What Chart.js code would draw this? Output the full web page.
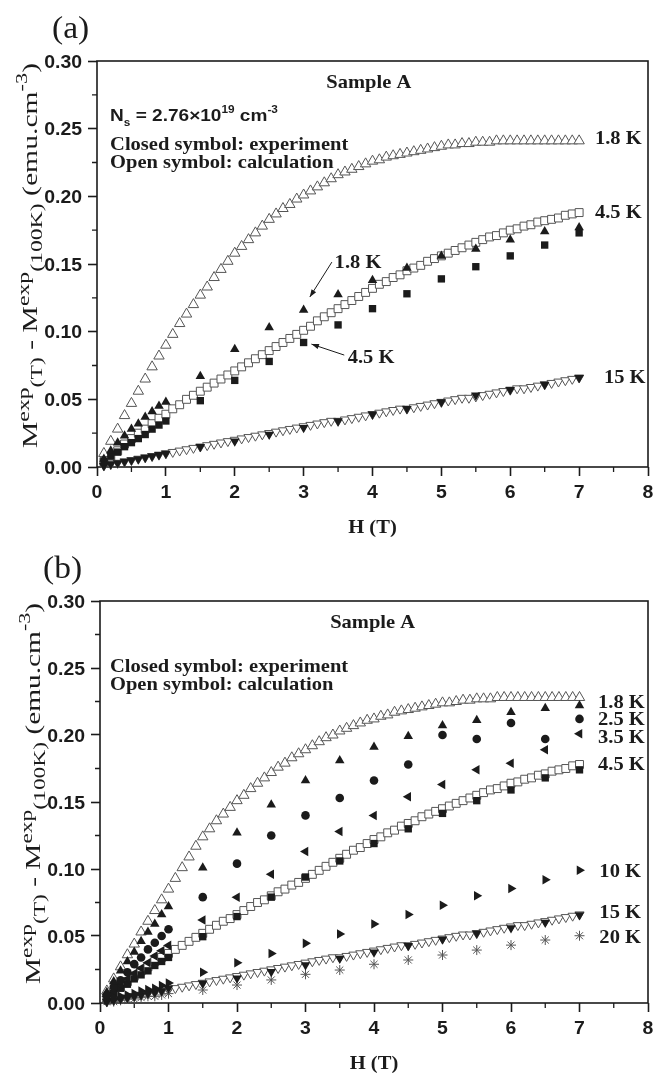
<!DOCTYPE html>
<html>
<head>
<meta charset="utf-8">
<script src="https://cdn.jsdelivr.net/npm/chart.js@4.4.0/dist/chart.umd.min.js"></script>
<style>
    html, body { margin: 0; padding: 0; background: #fff; }
    canvas { display: block; }
</style>
</head>
<body>
<canvas id="chartA" width="655" height="538"></canvas>
<canvas id="chartB" width="655" height="539"></canvas>
<script>
'use strict';

// fields of the measured points (T)
const fieldExp = [0.1, 0.2, 0.3, 0.4, 0.5, 0.6, 0.7, 0.8, 0.9, 1.0, 1.5, 2.0, 2.5, 3.0, 3.5, 4.0, 4.5, 5.0, 5.5, 6.0, 6.5, 7.0];

// fields of the calculated curves (T)
const fieldCalc = [
    0.1, 0.2, 0.3, 0.4, 0.5, 0.6, 0.7, 0.8, 0.9, 1.0,
    1.1, 1.2, 1.3, 1.4, 1.5, 1.6, 1.7, 1.8, 1.9, 2.0,
    2.1, 2.2, 2.3, 2.4, 2.5, 2.6, 2.7, 2.8, 2.9, 3.0,
    3.1, 3.2, 3.3, 3.4, 3.5, 3.6, 3.7, 3.8, 3.9, 4.0,
    4.1, 4.2, 4.3, 4.4, 4.5, 4.6, 4.7, 4.8, 4.9, 5.0,
    5.1, 5.2, 5.3, 5.4, 5.5, 5.6, 5.7, 5.8, 5.9, 6.0,
    6.1, 6.2, 6.3, 6.4, 6.5, 6.6, 6.7, 6.8, 6.9, 7.0
];

// panel (a), experiment
const expA18 = [0.006, 0.012, 0.018, 0.023, 0.028, 0.032, 0.037, 0.041, 0.045, 0.048, 0.067, 0.087, 0.103, 0.116, 0.1275, 0.138, 0.147, 0.156, 0.161, 0.168, 0.174, 0.177];
const expA45 = [0.004, 0.008, 0.011, 0.015, 0.018, 0.021, 0.024, 0.028, 0.031, 0.034, 0.049, 0.064, 0.078, 0.092, 0.105, 0.117, 0.128, 0.139, 0.148, 0.156, 0.164, 0.173];
const expA15 = [0.001, 0.002, 0.003, 0.004, 0.005, 0.006, 0.007, 0.008, 0.009, 0.010, 0.015, 0.019, 0.024, 0.029, 0.034, 0.039, 0.043, 0.048, 0.053, 0.057, 0.061, 0.066];

// panel (a), calculation
const calcA18 = [
    0.010, 0.019, 0.028, 0.038, 0.047, 0.056, 0.065, 0.074, 0.082, 0.090,
    0.098, 0.106, 0.113, 0.120, 0.127, 0.133, 0.140, 0.146, 0.152, 0.158,
    0.163, 0.168, 0.173, 0.178, 0.183, 0.187, 0.191, 0.194, 0.198, 0.201,
    0.204, 0.207, 0.210, 0.213, 0.216, 0.218, 0.220, 0.222, 0.224, 0.226,
    0.227, 0.229, 0.230, 0.231, 0.232, 0.233, 0.234, 0.235, 0.236, 0.237,
    0.238, 0.238, 0.239, 0.239, 0.240, 0.240, 0.240, 0.241, 0.241, 0.241,
    0.241, 0.241, 0.241, 0.241, 0.241, 0.241, 0.241, 0.241, 0.241, 0.241
];
const calcA45 = [
    0.004, 0.008, 0.012, 0.017, 0.021, 0.025, 0.028, 0.032, 0.036, 0.039,
    0.043, 0.046, 0.050, 0.053, 0.056, 0.059, 0.062, 0.065, 0.068, 0.071,
    0.074, 0.077, 0.080, 0.083, 0.086, 0.089, 0.092, 0.095, 0.098, 0.101,
    0.104, 0.108, 0.111, 0.114, 0.117, 0.120, 0.123, 0.126, 0.129, 0.132,
    0.135, 0.137, 0.140, 0.142, 0.145, 0.147, 0.149, 0.152, 0.154, 0.156,
    0.158, 0.160, 0.162, 0.164, 0.166, 0.168, 0.170, 0.171, 0.173, 0.175,
    0.176, 0.178, 0.179, 0.181, 0.182, 0.183, 0.184, 0.186, 0.187, 0.188
];
const calc15 = [
    0.001, 0.002, 0.003, 0.004, 0.005, 0.006, 0.007, 0.008, 0.009, 0.010,
    0.011, 0.012, 0.013, 0.014, 0.015, 0.016, 0.017, 0.018, 0.019, 0.020,
    0.021, 0.022, 0.023, 0.024, 0.025, 0.026, 0.027, 0.028, 0.029, 0.030,
    0.031, 0.032, 0.033, 0.034, 0.034, 0.035, 0.036, 0.037, 0.038, 0.039,
    0.040, 0.041, 0.042, 0.043, 0.043, 0.044, 0.045, 0.046, 0.047, 0.048,
    0.049, 0.050, 0.051, 0.051, 0.052, 0.053, 0.054, 0.055, 0.056, 0.057,
    0.058, 0.058, 0.059, 0.060, 0.061, 0.062, 0.063, 0.064, 0.065, 0.066
];

// panel (b), experiment
const expB18 = [0.008, 0.016, 0.024, 0.031, 0.038, 0.046, 0.053, 0.059, 0.066, 0.072, 0.101, 0.127, 0.148, 0.166, 0.181, 0.191, 0.199, 0.207, 0.211, 0.217, 0.220, 0.222];
const expB25 = [0.006, 0.012, 0.017, 0.023, 0.029, 0.034, 0.040, 0.045, 0.050, 0.055, 0.079, 0.104, 0.125, 0.140, 0.153, 0.166, 0.178, 0.200, 0.197, 0.209, 0.197, 0.212];
const expB35 = [0.005, 0.009, 0.014, 0.018, 0.022, 0.026, 0.030, 0.035, 0.039, 0.043, 0.062, 0.079, 0.096, 0.113, 0.128, 0.140, 0.154, 0.163, 0.174, 0.179, 0.189, 0.201];
const expB45 = [0.004, 0.007, 0.011, 0.014, 0.018, 0.021, 0.024, 0.028, 0.031, 0.034, 0.0495, 0.0645, 0.079, 0.094, 0.106, 0.119, 0.130, 0.1415, 0.151, 0.159, 0.168, 0.174];
const expB10 = [0.002, 0.003, 0.005, 0.006, 0.007, 0.009, 0.010, 0.011, 0.013, 0.015, 0.023, 0.030, 0.037, 0.0445, 0.0515, 0.059, 0.066, 0.073, 0.080, 0.0855, 0.092, 0.099];
const expB15 = [0.001, 0.002, 0.003, 0.004, 0.005, 0.006, 0.007, 0.008, 0.009, 0.011, 0.0147, 0.0184, 0.0234, 0.0283, 0.0333, 0.0378, 0.0427, 0.0475, 0.052, 0.056, 0.060, 0.0656];
const expB20 = [0.001, 0.001, 0.002, 0.003, 0.003, 0.004, 0.005, 0.005, 0.006, 0.007, 0.0097, 0.0134, 0.0172, 0.0214, 0.0246, 0.0289, 0.0321, 0.0358, 0.0395, 0.0432, 0.047, 0.0502];

// panel (b), calculation
const calcB18 = [
    0.009, 0.018, 0.027, 0.036, 0.044, 0.053, 0.061, 0.069, 0.077, 0.085,
    0.093, 0.101, 0.109, 0.117, 0.124, 0.130, 0.136, 0.141, 0.146, 0.151,
    0.155, 0.160, 0.164, 0.168, 0.172, 0.176, 0.179, 0.183, 0.186, 0.189,
    0.192, 0.195, 0.198, 0.200, 0.203, 0.205, 0.207, 0.209, 0.211, 0.212,
    0.214, 0.215, 0.217, 0.218, 0.219, 0.220, 0.221, 0.222, 0.223, 0.224,
    0.224, 0.225, 0.226, 0.226, 0.227, 0.227, 0.227, 0.228, 0.228, 0.228,
    0.228, 0.228, 0.228, 0.228, 0.228, 0.228, 0.228, 0.228, 0.228, 0.228
];
const calcB45 = [
    0.004, 0.008, 0.012, 0.016, 0.020, 0.024, 0.027, 0.031, 0.034, 0.037,
    0.040, 0.043, 0.046, 0.049, 0.052, 0.055, 0.058, 0.061, 0.063, 0.066,
    0.069, 0.072, 0.075, 0.077, 0.080, 0.083, 0.085, 0.088, 0.090, 0.093,
    0.096, 0.099, 0.102, 0.105, 0.108, 0.111, 0.114, 0.116, 0.119, 0.122,
    0.124, 0.127, 0.129, 0.132, 0.134, 0.136, 0.139, 0.141, 0.143, 0.145,
    0.147, 0.149, 0.151, 0.153, 0.155, 0.157, 0.159, 0.160, 0.162, 0.164,
    0.165, 0.167, 0.168, 0.170, 0.171, 0.173, 0.174, 0.175, 0.177, 0.178
];

// axes
const xTicks = [0, 1, 2, 3, 4, 5, 6, 7, 8];
const xTickLabels = ['0', '1', '2', '3', '4', '5', '6', '7', '8'];
const xMinor = [0.5, 1.5, 2.5, 3.5, 4.5, 5.5, 6.5, 7.5];
const yTicks = [0, 0.05, 0.10, 0.15, 0.20, 0.25, 0.30];
const yTickLabels = ['0.00', '0.05', '0.10', '0.15', '0.20', '0.25', '0.30'];
const yMinor = [0.025, 0.075, 0.125, 0.175, 0.225, 0.275];

const INK = '#1b1b1b';
const OPEN = '#555';
const SERIF = '"Times New Roman", "Liberation Serif", serif';
const SANS = 'Arial, "Liberation Sans", sans-serif';
const STRETCH = 1.08;

const nsParts = [
    { t: 'N' }, { t: 's', s: 0.62, dy: 0.32 }, { t: ' = 2.76×10' }, { t: '19', s: 0.62, dy: -0.42 },
    { t: ' cm' }, { t: '-3', s: 0.62, dy: -0.42 }
];
const yTitleParts = [
    { t: 'M' }, { t: 'exp', s: 0.8, dy: -0.38 }, { t: '(T)', s: 0.8, dy: 0.22 },
    { t: ' - M' }, { t: 'exp', s: 0.8, dy: -0.38 }, { t: '(100K)', s: 0.8, dy: 0.22 },
    { t: ' (emu.cm' }, { t: '-3', s: 0.75, dy: -0.45 }, { t: ')' }
];

// annotations, placed in data units
const notesA = [
    { text: 'Sample A', x: 3.33, y: 0.280 },
    { rich: nsParts, x: 0.19, y: 0.256 },
    { text: 'Closed symbol: experiment', x: 0.19, y: 0.234 },
    { text: 'Open symbol: calculation', x: 0.19, y: 0.221 },
    { text: '1.8 K', x: 7.23, y: 0.2386 },
    { text: '4.5 K', x: 7.23, y: 0.184 },
    { text: '15 K', x: 7.36, y: 0.062 },
    { text: '1.8 K', x: 3.45, y: 0.147 },
    { text: '4.5 K', x: 3.64, y: 0.0768 }
];
const arrowsA = [
    { from: [3.41, 0.1514], to: [3.09, 0.1256] },
    { from: [3.59, 0.0827], to: [3.113, 0.0908] }
];
const notesB = [
    { text: 'Sample A', x: 3.36, y: 0.2796 },
    { text: 'Closed symbol: experiment', x: 0.145, y: 0.2468 },
    { text: 'Open symbol: calculation', x: 0.145, y: 0.2334 },
    { text: '1.8 K', x: 7.27, y: 0.220 },
    { text: '2.5 K', x: 7.27, y: 0.2073 },
    { text: '3.5 K', x: 7.27, y: 0.1939 },
    { text: '4.5 K', x: 7.27, y: 0.1738 },
    { text: '10 K', x: 7.29, y: 0.094 },
    { text: '15 K', x: 7.29, y: 0.0634 },
    { text: '20 K', x: 7.29, y: 0.0447 }
];

function points(fields, values) {
    return fields.map((h, i) => ({ x: h, y: values[i] }));
}

function filled(values, style, rotation, radius) {
    return {
        data: points(fieldExp, values), pointStyle: style, rotation: rotation, radius: radius,
        backgroundColor: INK, borderColor: INK, borderWidth: 0, showLine: false
    };
}

function open(values, style, rotation, radius) {
    return {
        data: points(fieldCalc, values), pointStyle: style, rotation: rotation, radius: radius,
        backgroundColor: '#fff', borderColor: OPEN, borderWidth: 1, showLine: false
    };
}

// draws text parts from the current origin, returns the width
function drawRich(ctx, parts, size, family, weight, measureOnly) {
    let x = 0;
    parts.forEach(p => {
        ctx.font = `${weight} ${size * (p.s || 1)}px ${family}`;
        if (!measureOnly) {
            ctx.fillText(p.t, x, (p.dy || 0) * size);
        }
        x += ctx.measureText(p.t).width;
    });
    return x;
}

function stretchedText(ctx, text, x, y, align) {
    ctx.save();
    ctx.translate(x, y);
    ctx.scale(STRETCH, 1);
    ctx.textAlign = align || 'left';
    ctx.fillText(text, 0, 0);
    ctx.restore();
}

const figurePlugin = {
    id: 'figure',
    beforeDatasetsDraw(chart) {
        let ctx = chart.ctx;
        let area = chart.chartArea;
        let sx = chart.scales.x;
        let sy = chart.scales.y;
        ctx.save();
        ctx.strokeStyle = INK;
        ctx.lineWidth = 1.6;
        ctx.strokeRect(area.left, area.top, area.right - area.left, area.bottom - area.top);
        ctx.lineWidth = 1.3;
        ctx.beginPath();
        xMinor.forEach(v => {
            let px = sx.getPixelForValue(v);
            ctx.moveTo(px, area.bottom);
            ctx.lineTo(px, area.bottom + 5);
        });
        yMinor.forEach(v => {
            let py = sy.getPixelForValue(v);
            ctx.moveTo(area.left, py);
            ctx.lineTo(area.left - 5, py);
        });
        ctx.stroke();

        // tick labels
        ctx.fillStyle = INK;
        ctx.font = `bold 18px ${SANS}`;
        xTicks.forEach((v, i) => stretchedText(ctx, xTickLabels[i], sx.getPixelForValue(v), area.bottom + 31, 'center'));
        yTicks.forEach((v, i) => stretchedText(ctx, yTickLabels[i], area.left - 15, sy.getPixelForValue(v) + 6.5, 'right'));
        ctx.restore();
    },
    afterDraw(chart, args, opts) {
        let ctx = chart.ctx;
        let area = chart.chartArea;
        let sx = chart.scales.x;
        let sy = chart.scales.y;
        ctx.save();
        ctx.fillStyle = INK;
        ctx.strokeStyle = INK;
        ctx.textBaseline = 'alphabetic';
        ctx.textAlign = 'left';

        // panel letter
        ctx.font = `normal 31px ${SERIF}`;
        stretchedText(ctx, opts.panel, opts.panelLeft, opts.panelBaseline);

        // annotations
        opts.notes.forEach(note => {
            let px = sx.getPixelForValue(note.x);
            let py = sy.getPixelForValue(note.y);
            if (note.rich) {
                ctx.save();
                ctx.translate(px, py);
                ctx.scale(1.12, 1);
                drawRich(ctx, note.rich, 17, SANS, 'bold');
                ctx.restore();
            } else {
                ctx.font = `bold 19px ${SERIF}`;
                stretchedText(ctx, note.text, px, py);
            }
        });

        // arrows
        (opts.arrows || []).forEach(arrow => {
            let x0 = sx.getPixelForValue(arrow.from[0]);
            let y0 = sy.getPixelForValue(arrow.from[1]);
            let x1 = sx.getPixelForValue(arrow.to[0]);
            let y1 = sy.getPixelForValue(arrow.to[1]);
            let angle = Math.atan2(y1 - y0, x1 - x0);
            ctx.lineWidth = 1;
            ctx.beginPath();
            ctx.moveTo(x0, y0);
            ctx.lineTo(x1, y1);
            ctx.stroke();
            ctx.beginPath();
            ctx.moveTo(x1, y1);
            ctx.lineTo(x1 - 8 * Math.cos(angle - 0.35), y1 - 8 * Math.sin(angle - 0.35));
            ctx.lineTo(x1 - 8 * Math.cos(angle + 0.35), y1 - 8 * Math.sin(angle + 0.35));
            ctx.closePath();
            ctx.fill();
        });

        // x title
        ctx.font = `bold 19px ${SERIF}`;
        stretchedText(ctx, 'H (T)', (area.left + area.right) / 2, area.bottom + 66, 'center');

        // y title, rotated and stretched along its baseline
        ctx.save();
        ctx.translate(area.left - 60, area.bottom - 19);
        ctx.rotate(-Math.PI / 2);
        let width = drawRich(ctx, yTitleParts, 22, SERIF, 'normal', true);
        ctx.scale((area.bottom - area.top - 21) / width, 1);
        drawRich(ctx, yTitleParts, 22, SERIF, 'normal');
        ctx.restore();

        ctx.restore();
    }
};

function makeChart(id, datasets, layout, figure) {
    new Chart(document.getElementById(id), {
        type: 'scatter',
        data: { datasets: datasets },
        options: {
            responsive: false,
            animation: false,
            devicePixelRatio: 1,
            events: [],
            clip: false,
            layout: { padding: layout.padding },
            plugins: { legend: { display: false }, tooltip: { enabled: false }, figure: figure },
            scales: {
                x: {
                    type: 'linear', min: 0, max: 8,
                    afterBuildTicks: scale => { scale.ticks = xTicks.map(value => ({ value })); },
                    afterFit: scale => { scale.height = layout.xHeight; scale.paddingLeft = 0; scale.paddingRight = 0; },
                    ticks: { display: false },
                    grid: { drawOnChartArea: false, drawTicks: true, tickLength: 9, tickWidth: 1.6, tickColor: INK },
                    border: { display: false }
                },
                y: {
                    type: 'linear', min: 0, max: 0.3,
                    afterBuildTicks: scale => { scale.ticks = yTicks.map(value => ({ value })); },
                    afterFit: scale => { scale.width = layout.yWidth; scale.paddingTop = 0; scale.paddingBottom = 0; },
                    ticks: { display: false },
                    grid: { drawOnChartArea: false, drawTicks: true, tickLength: 9, tickWidth: 1.6, tickColor: INK },
                    border: { display: false }
                }
            }
        },
        plugins: [figurePlugin]
    });
}

makeChart('chartA', [
    filled(expA18, 'triangle', 0, 5.5),
    filled(expA45, 'rect', 0, 5.2),
    filled(expA15, 'triangle', 180, 5.5),
    open(calcA18, 'triangle', 0, 6),
    open(calcA45, 'rect', 0, 5.6),
    open(calc15, 'triangle', 180, 5.3)
], {
    padding: { left: 0, top: 61, right: 4, bottom: 0 }, yWidth: 97, xHeight: 71
}, {
    panel: '(a)', panelLeft: 52, panelBaseline: 38, notes: notesA, arrows: arrowsA
});

makeChart('chartB', [
    filled(expB18, 'triangle', 0, 5.5),
    filled(expB25, 'circle', 0, 4.3),
    filled(expB35, 'triangle', 270, 5.5),
    filled(expB45, 'rect', 0, 5.2),
    filled(expB10, 'triangle', 90, 5.5),
    filled(expB15, 'triangle', 180, 5.5),
    { data: points(fieldExp, expB20), pointStyle: 'star', radius: 5, borderColor: OPEN, borderWidth: 1, showLine: false },
    open(calcB18, 'triangle', 0, 6),
    open(calcB45, 'rect', 0, 5.6),
    open(calc15, 'triangle', 180, 5.3)
], {
    padding: { left: 0, top: 63, right: 3, bottom: 0 }, yWidth: 100, xHeight: 74
}, {
    panel: '(b)', panelLeft: 43, panelBaseline: 40, notes: notesB, arrows: []
});
</script>
</body>
</html>
